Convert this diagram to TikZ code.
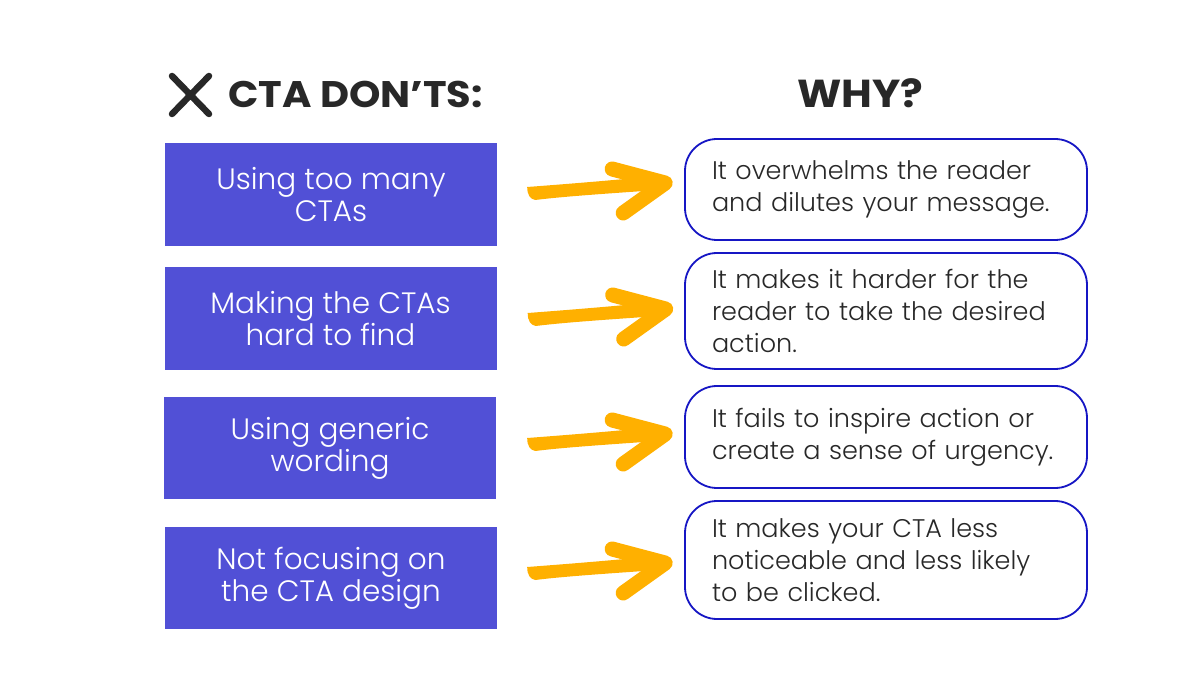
\documentclass[tikz,border=0pt]{standalone}
\usepackage{fontspec}
\setmainfont{Poppins}[UprightFont=* Light, BoldFont=* Bold]
\newfontfamily\headfont[FakeStretch=1.08, UprightFont=* Bold]{Poppins}
\usetikzlibrary{calc}
\definecolor{lboxc}{RGB}{81,80,214}
\definecolor{rline}{RGB}{22,22,196}
\definecolor{arrc}{RGB}{255,176,0}
\definecolor{txt}{RGB}{40,40,40}
\tikzset{
  lbox/.style={fill=lboxc, text=white, minimum width=332pt, inner sep=0pt, align=center, font=\fontsize{29.5}{32}\selectfont},
  rbox/.style={draw=rline, line width=1.8pt, rounded corners=32pt, minimum width=402pt, inner xsep=27pt, inner ysep=0pt, text width=348pt, align=left, text=txt, font=\fontsize{25.5}{32}\selectfont},
  head/.style={inner sep=0pt, text=txt},
  brush/.pic={
    \fill[arrc] (0,-5) .. controls (40,-8) and (90,-12) .. (128,-16) -- (130,-2) .. controls (90,1) and (40,4) .. (8,8) .. controls (3,7) and (0,3) .. (0,-5) -- cycle;
    \draw[arrc, line width=15pt, line join=round, line cap=round] (85,-23) -- (138,-9) -- (96,21);
  }
}
\begin{document}
\begin{tikzpicture}[x=1pt,y=-1pt]
\useasboundingbox (0,0) rectangle (1200,700);
\fill[white] (0,0) rectangle (1200,700);
% header
\draw[txt, line width=6.5pt, line cap=round] (172,76) -- (209,114) (209,76) -- (172,114);
\node[head, anchor=base west, font=\headfont\fontsize{37}{40}\selectfont] (H1) at (228,108) {CTA DON’TS:};
\node[head, anchor=base, font=\headfont\fontsize{39}{42}\selectfont] (H2) at (860.5,108) {WHY?};
% left boxes
\node[lbox, minimum height=103pt] (L1) at (331,194.5) {Using too many\\CTAs};
\node[lbox, minimum height=103pt] (L2) at (330.5,318.5) {Making the CTAs\\hard to find};
\node[lbox, minimum height=102pt] (L3) at (330,448) {Using generic\\wording};
\node[lbox, minimum height=102pt] (L4) at (331,578) {Not focusing on\\the CTA design};
% right boxes
\node[rbox, minimum height=101pt] (R1) at (886,189.5) {It overwhelms the reader\\and dilutes your message.};
\node[rbox, minimum height=116pt] (R2) at (886,311) {It makes it harder for the\\reader to take the desired\\action.};
\node[rbox, minimum height=102pt] (R3) at (886,437) {It fails to inspire action or\\create a sense of urgency.};
\node[rbox, minimum height=118pt] (R4) at (886,560) {It makes your CTA less\\noticeable and less likely\\to be clicked.};
% arrows
\pic at ($(L1.east)+(30,-2.5)$) {brush};
\pic at ($(L2.east)+(31,-0.5)$) {brush};
\pic at ($(L3.east)+(31,-5)$) {brush};
\pic at ($(L4.east)+(30,-6)$) {brush};
\end{tikzpicture}
\end{document}
